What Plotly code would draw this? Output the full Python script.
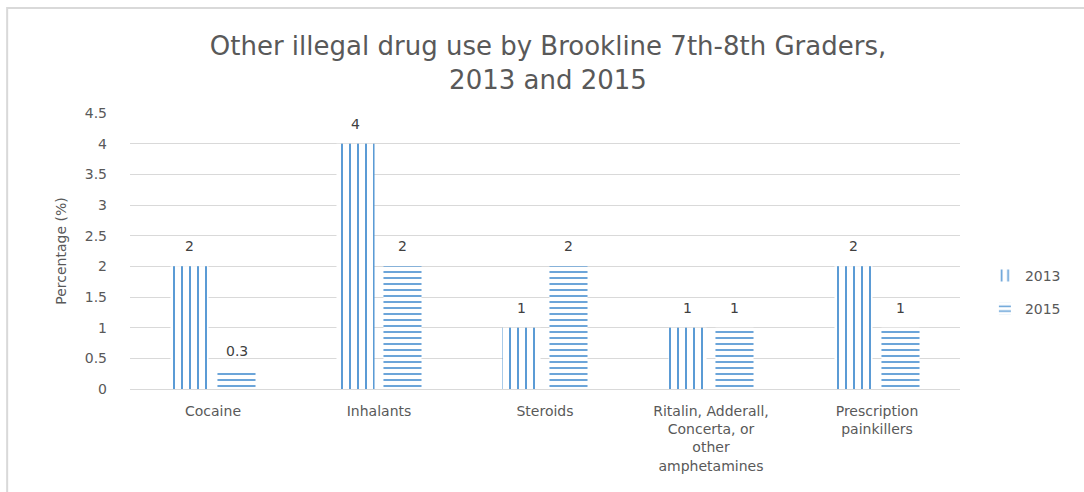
import plotly.graph_objects as go

categories = ["Cocaine", "Inhalants", "Steroids",
              "Ritalin, Adderall,<br>Concerta, or<br>other<br>amphetamines",
              "Prescription<br>painkillers"]
values_2013 = [2, 4, 1, 1, 2]
values_2015 = [0.3, 2, 2, 1, 1]
labels_2013 = ["2", "4", "1", "1", "2"]
labels_2015 = ["0.3", "2", "2", "1", "1"]
y_ticks = [0, 0.5, 1, 1.5, 2, 2.5, 3, 3.5, 4, 4.5]
y_ticklabels = ["0", "0.5", "1", "1.5", "2", "2.5", "3", "3.5", "4", "4.5"]

BLUE = "#5B9BD5"
GREY = "#595959"
FONT = "DejaVu Sans"

fig = go.Figure()
fig.add_trace(go.Bar(
    name="2013", x=categories, y=values_2013, legendgroup="a",
    marker=dict(color=BLUE, line=dict(width=0),
                pattern=dict(shape="|", fgcolor=BLUE, bgcolor="white",
                             size=8, solidity=0.25, fillmode="replace")),
))
fig.add_trace(go.Bar(
    name="2015", x=categories, y=values_2015, legendgroup="b",
    marker=dict(color=BLUE, line=dict(width=0),
                pattern=dict(shape="-", fgcolor=BLUE, bgcolor="white",
                             size=6, solidity=0.3, fillmode="replace")),
))

annotations = []
for cat, v, t in zip(categories, values_2013, labels_2013):
    annotations.append(dict(x=cat, y=v, text=t, showarrow=False, xshift=-23.5,
                            yshift=20, font=dict(family=FONT, size=14, color="#404040")))
for cat, v, t in zip(categories, values_2015, labels_2015):
    annotations.append(dict(x=cat, y=v, text=t, showarrow=False, xshift=23.5,
                            yshift=20, font=dict(family=FONT, size=14, color="#404040")))

fig.update_layout(
    width=1084, height=492,
    margin=dict(l=130, r=124, t=113, b=103),
    paper_bgcolor="white", plot_bgcolor="white",
    font=dict(family=FONT, color=GREY, size=14),
    title=dict(text="Other illegal drug use by Brookline 7th-8th Graders,<br>2013 and 2015",
               x=(548) / 1084, xanchor="center", y=1 - 55 / 492, yanchor="middle",
               font=dict(family=FONT, size=26, color=GREY)),
    barmode="group", bargap=0.434, bargroupgap=0.19,
    showlegend=True,
    legend=dict(x=1.03, y=0.35, xanchor="left", yanchor="middle",
                font=dict(family=FONT, size=14, color=GREY),
                tracegroupgap=12, bgcolor="rgba(0,0,0,0)"),
    annotations=annotations,
    shapes=[dict(type="rect", xref="paper", yref="paper",
                 x0=-0.148, x1=1.2, y0=-0.45, y1=1.38,
                 line=dict(color="#D9D9D9", width=2), fillcolor="rgba(0,0,0,0)",
                 layer="below")],
)
fig.update_xaxes(showgrid=False, showline=False, ticks="", ticklabelstandoff=12,
                 tickfont=dict(family=FONT, size=14, color=GREY))
fig.update_yaxes(range=[0, 4.5], tickvals=y_ticks, ticktext=y_ticklabels,
                 showgrid=True, gridcolor="#D9D9D9", gridwidth=1,
                 zeroline=True, zerolinecolor="#D9D9D9", zerolinewidth=1,
                 showline=False, ticks="", ticklabelstandoff=22,
                 title=dict(text="Percentage (%)", font=dict(family=FONT, size=14, color=GREY), standoff=14),
                 tickfont=dict(family=FONT, size=14, color=GREY))

fig.write_html("out.html")
